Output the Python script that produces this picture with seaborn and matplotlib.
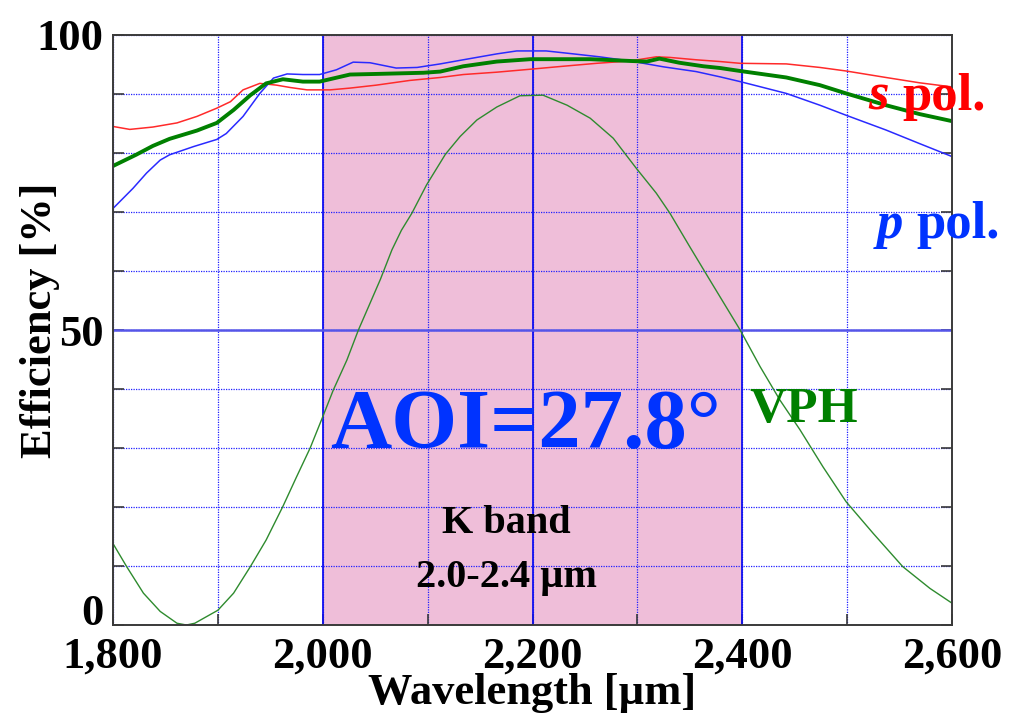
import numpy as np
import pandas as pd
import matplotlib
matplotlib.use("Agg")
import matplotlib.pyplot as plt
from matplotlib.ticker import MultipleLocator, FuncFormatter
import seaborn as sns

# ---- data ----
s_wl = [1800, 1816, 1838, 1861, 1880, 1899, 1912, 1924, 1940, 1956, 1969, 1985, 2007,
        2026, 2051, 2083, 2112, 2134, 2166, 2198, 2229, 2261, 2293, 2318, 2331, 2356,
        2379, 2398, 2442, 2474, 2499, 2537, 2569, 2600]
s_eff = [84.5, 84.0, 84.4, 85.1, 86.2, 87.6, 88.7, 90.7, 91.8, 91.5, 91.1, 90.7, 90.7,
         91.0, 91.5, 92.3, 92.8, 93.3, 93.7, 94.2, 94.7, 95.2, 95.6, 96.3, 96.2, 95.8,
         95.5, 95.2, 95.1, 94.5, 93.9, 92.8, 91.9, 91.2]

p_wl = [1800, 1819, 1832, 1845, 1854, 1877, 1899, 1908, 1924, 1940, 1953, 1966, 1981,
        1997, 2013, 2029, 2045, 2070, 2090, 2112, 2134, 2166, 2185, 2213, 2239, 2264,
        2293, 2325, 2356, 2379, 2398, 2442, 2474, 2499, 2537, 2569, 2600]
p_eff = [70.6, 74.0, 76.6, 78.8, 79.7, 81.1, 82.3, 83.3, 86.2, 90.1, 92.7, 93.4, 93.3,
         93.3, 94.1, 95.4, 95.3, 94.4, 94.5, 95.1, 95.8, 96.8, 97.3, 97.3, 96.8, 96.3,
         95.6, 94.6, 93.8, 92.9, 92.1, 90.1, 88.1, 86.4, 83.9, 81.6, 79.4]

avg_wl = [1800, 1822, 1838, 1854, 1880, 1899, 1915, 1931, 1946, 1962, 1981, 1997, 2026,
          2051, 2096, 2112, 2134, 2166, 2198, 2255, 2293, 2309, 2321, 2340, 2363, 2379,
          2398, 2442, 2474, 2499, 2537, 2569, 2600]
avg_eff = [77.8, 79.7, 81.2, 82.4, 83.8, 85.1, 87.3, 89.8, 91.8, 92.5, 92.1, 92.1, 93.3,
           93.4, 93.6, 93.8, 94.7, 95.5, 95.9, 95.9, 95.6, 95.5, 96.0, 95.3, 94.7, 94.4,
           93.9, 92.8, 91.5, 90.1, 88.1, 86.6, 85.4]

vph_wl = [1800, 1813, 1829, 1845, 1861, 1870, 1878, 1900, 1915, 1931, 1946, 1962, 1975,
          1988, 2000, 2010, 2023, 2034, 2045, 2055, 2066, 2075, 2085, 2099, 2117, 2131,
          2147, 2166, 2188, 2210, 2233, 2255, 2277, 2299, 2318, 2331, 2350, 2369, 2398,
          2417, 2436, 2455, 2477, 2499, 2525, 2553, 2579, 2600]
vph_eff = [13.8, 9.9, 5.4, 2.3, 0.3, 0.0, 0.3, 2.5, 5.4, 9.9, 14.4, 20.1, 25.1,
           30.0, 35.3, 39.8, 44.9, 50.0, 54.5, 58.6, 63.6, 66.9, 69.8, 74.6, 79.8, 82.8,
           85.6, 87.8, 89.7, 89.8, 88.1, 85.9, 82.5, 77.4, 73.2, 69.8, 64.1, 58.5, 50.0,
           43.8, 38.1, 33.1, 26.8, 20.9, 15.5, 9.9, 6.2, 3.7]

band = [2000, 2400]
x_ticks = [1800, 2000, 2200, 2400, 2600]
y_ticks = [0, 50, 100]

# ---- style ----
sns.set_theme(style="white")
plt.rcParams['font.family'] = ['Liberation Serif', 'DejaVu Serif']
plt.rcParams['font.weight'] = 'bold'

fig = plt.figure(figsize=(10.16, 7.16), dpi=100)
ax = fig.add_axes([113/1016, 1-625/716, (952-113)/1016, (625-35)/716])

ax.axvspan(band[0], band[1], color='#efbed9', zorder=0, lw=0)

ax.set_xlim(1800, 2600)
ax.set_ylim(0, 100)
ax.set_xticks(x_ticks)
ax.set_yticks(y_ticks)
ax.xaxis.set_minor_locator(MultipleLocator(100))
ax.yaxis.set_minor_locator(MultipleLocator(10))
ax.set_xticklabels([f"{v:,}" for v in x_ticks])
ax.set_yticklabels([f"{v}" for v in y_ticks])

ax.grid(which='both', color='#2020ff', linestyle=(0, (1, 1)), linewidth=0.9, zorder=1)
for xv in [2000, 2200, 2400]:
    ax.axvline(xv, color='#1010f0', lw=1.3, zorder=1.5)
ax.axhline(50, color='#5555e8', lw=1.8, zorder=1.5)

sns.lineplot(x=vph_wl, y=vph_eff, ax=ax, color='#2e8b2e', lw=1.0, zorder=3)
sns.lineplot(x=s_wl, y=s_eff, ax=ax, color='#ff2a2a', lw=1.1, zorder=3)
sns.lineplot(x=p_wl, y=p_eff, ax=ax, color='#2a2aff', lw=1.1, zorder=3)
sns.lineplot(x=avg_wl, y=avg_eff, ax=ax, color='#008000', lw=2.8, zorder=4)

for sp in ax.spines.values():
    sp.set_color('#3a3a3a')
    sp.set_linewidth(1.4)
    sp.set_zorder(5)

ax.tick_params(which='both', direction='in', left=True, bottom=True, right=True,
               top=False, color='#3a3a3a', width=1.2)
ax.tick_params(which='major', length=8, labelsize=32)
ax.tick_params(which='minor', length=8)
ax.tick_params(axis='x', which='major', pad=8)
ax.tick_params(axis='y', which='major', pad=7)
for lab in ax.get_xticklabels() + ax.get_yticklabels():
    lab.set_fontweight('bold')
    lab.set_color('black')
ax.yaxis.get_major_ticks()[0].label1.set_va('baseline')

ax.set_xlabel('Wavelength [µm]', fontsize=32, fontweight='bold', color='black', labelpad=-2)
fig.text(40/1016, 1-320/716, 'Efficiency [%]', rotation=90, fontsize=32,
         fontweight='bold', color='black', ha='center', va='center')

# annotations
ax.text(2520, 87.3, 's', style='italic', fontsize=38, fontweight='bold', color='#ff0000',
        ha='left', va='baseline', zorder=6)
ax.text(2553, 87.3, 'pol.', fontsize=38, fontweight='bold', color='#ff0000',
        ha='left', va='baseline', zorder=6)
ax.text(2528, 65.6, 'p', style='italic', fontsize=38, fontweight='bold', color='#0033ff',
        ha='left', va='baseline', zorder=6, clip_on=False)
ax.text(2566, 65.6, 'pol.', fontsize=38, fontweight='bold', color='#0033ff',
        ha='left', va='baseline', zorder=6, clip_on=False)
ax.text(2007, 30.0, 'AOI=27.8°', fontsize=61, fontweight='bold', color='#0033ff',
        ha='left', va='baseline', zorder=6)
ax.text(2407, 34.4, 'VPH', fontsize=37, fontweight='bold', color='#008000',
        ha='left', va='baseline', zorder=6)
ax.text(2175, 15.6, 'K band', fontsize=29, fontweight='bold', color='black',
        ha='center', va='baseline', zorder=6)
ax.text(2175, 6.4, '2.0-2.4 µm', fontsize=29, fontweight='bold', color='black',
        ha='center', va='baseline', zorder=6)

fig.savefig('out.png', dpi=100)
